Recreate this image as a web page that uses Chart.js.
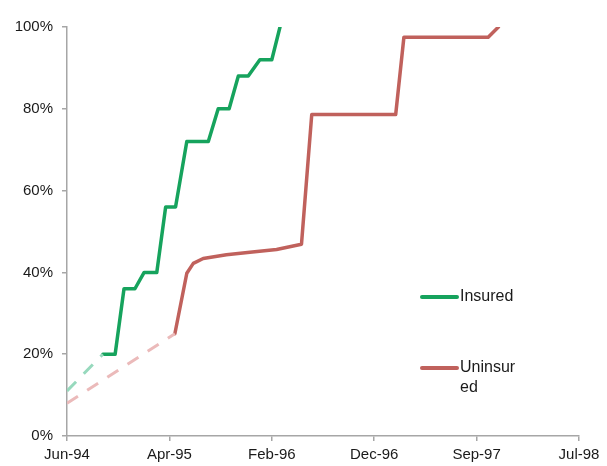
<!DOCTYPE html>
<html>
<head>
<meta charset="utf-8">
<script src="https://cdn.jsdelivr.net/npm/chart.js@4/dist/chart.umd.min.js"></script>
<style>
  html, body { margin: 0; padding: 0; background: #fff; }
  #wrap { position: relative; width: 607px; height: 466px; }
</style>
</head>
<body>
<div id="wrap"><canvas id="c" width="607" height="466"></canvas></div>
<script>
// x values are days after the Jun-94 tick; y values are cumulative shares (%)
const tickLabels = ['Jun-94', 'Apr-95', 'Feb-96', 'Dec-96', 'Sep-97', 'Jul-98'];
const tickStepDays = 300;

// Insured: extrapolated start, then observed steps
const insuredEstDays = [0, 105];
const insuredEstPct  = [11, 20];
const insuredDays = [105, 141, 167, 199, 226, 263, 289, 318, 351, 414, 443, 475, 502, 531, 565, 600, 624];
const insuredPct  = [20, 20, 36, 36, 40, 40, 56, 56, 72, 72, 80, 80, 88, 88, 92, 92, 100];

// Uninsured: extrapolated start, then observed steps
const uninsuredEstDays = [0, 316];
const uninsuredEstPct  = [8, 25];
const uninsuredDays = [316, 351, 370, 399, 467, 536, 614, 687, 717, 963, 987, 1234, 1264];
const uninsuredPct  = [25, 39.8, 42.2, 43.4, 44.3, 44.9, 45.6, 46.9, 78.6, 78.6, 97.5, 97.5, 100];

const pts = (xs, ys) => xs.map((x, i) => ({ x: x, y: ys[i] }));

const GREEN = '#16a35d';
const GREEN_LIGHT = '#97d9bd';
const RED = '#c0615c';
const RED_LIGHT = '#ebbaba';
const AXIS = '#a6a6a6';

const legendItems = [
  { color: GREEN, lines: ['Insured'], y: 297 },
  { color: RED, lines: ['Uninsur', 'ed'], y: 368 }
];

// Legend drawn beside the plot, with the wrapped second label
const sideLegend = {
  id: 'sideLegend',
  afterDraw(chart) {
    const ctx = chart.ctx;
    ctx.save();
    ctx.font = '16px "Liberation Sans", Arial, sans-serif';
    ctx.textBaseline = 'middle';
    ctx.textAlign = 'left';
    legendItems.forEach(item => {
      ctx.strokeStyle = item.color;
      ctx.lineWidth = 4;
      ctx.lineCap = 'round';
      ctx.beginPath();
      ctx.moveTo(422, item.y);
      ctx.lineTo(457, item.y);
      ctx.stroke();
      ctx.fillStyle = '#1a1a1a';
      item.lines.forEach((t, i) => ctx.fillText(t, 460, item.y + i * 20));
    });
    ctx.restore();
  }
};

const lineStyle = { pointRadius: 0, fill: false, tension: 0, borderJoinStyle: 'round', borderCapStyle: 'round' };

new Chart(document.getElementById('c'), {
  type: 'line',
  data: {
    datasets: [
      Object.assign({ label: 'Insured (est.)', data: pts(insuredEstDays, insuredEstPct), borderColor: GREEN_LIGHT, borderWidth: 3, borderDash: [13, 11] }, lineStyle, { borderCapStyle: 'butt' }),
      Object.assign({ label: 'Uninsured (est.)', data: pts(uninsuredEstDays, uninsuredEstPct), borderColor: RED_LIGHT, borderWidth: 3, borderDash: [13, 11] }, lineStyle, { borderCapStyle: 'butt' }),
      Object.assign({ label: 'Insured', data: pts(insuredDays, insuredPct), borderColor: GREEN, borderWidth: 3.5 }, lineStyle),
      Object.assign({ label: 'Uninsured', data: pts(uninsuredDays, uninsuredPct), borderColor: RED, borderWidth: 3.5 }, lineStyle)
    ]
  },
  options: {
    responsive: false,
    animation: false,
    layout: { padding: { top: 27, right: 28, left: 0, bottom: 0 } },
    plugins: { legend: { display: false }, tooltip: { enabled: false } },
    scales: {
      x: {
        type: 'linear',
        min: 0,
        max: tickStepDays * (tickLabels.length - 1),
        afterFit: s => { s.height = 30; },
        border: { color: AXIS, width: 1.5 },
        grid: { display: true, drawOnChartArea: false, drawTicks: true, tickLength: 5, color: AXIS, lineWidth: 1.5 },
        ticks: {
          stepSize: tickStepDays,
          autoSkip: false,
          maxRotation: 0,
          padding: 5,
          color: '#1a1a1a',
          font: { family: '"Liberation Sans", Arial, sans-serif', size: 15 },
          callback: v => tickLabels[Math.round(v / tickStepDays)]
        }
      },
      y: {
        min: 0,
        max: 100,
        afterFit: s => { s.width = 67; },
        border: { color: AXIS, width: 1.5 },
        grid: { display: true, drawOnChartArea: false, drawTicks: true, tickLength: 5, color: AXIS, lineWidth: 1.5 },
        ticks: {
          stepSize: 20,
          padding: 9,
          color: '#1a1a1a',
          font: { family: '"Liberation Sans", Arial, sans-serif', size: 15 },
          callback: v => v + '%'
        }
      }
    }
  },
  plugins: [sideLegend]
});
</script>
</body>
</html>
